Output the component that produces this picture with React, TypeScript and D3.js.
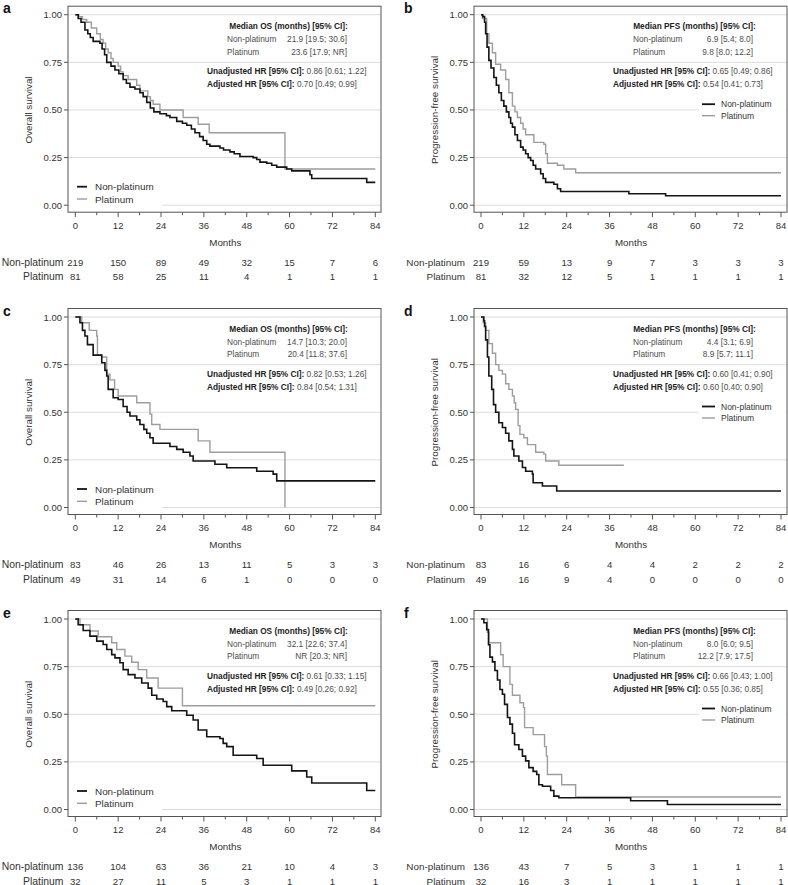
import React from 'react';
import * as d3 from 'd3';

const W = 788;
const H = 885;
const FONT = "'Liberation Sans', Arial, Helvetica, sans-serif";

const monthTicks = [0, 12, 24, 36, 48, 60, 72, 84];
const minorTicks = [6, 18, 30, 42, 54, 66, 78];
const survTicks = [0, 0.25, 0.5, 0.75, 1];
const survTickLabels = ['0.00', '0.25', '0.50', '0.75', '1.00'];
const groups = ['Non-platinum', 'Platinum'];

// ---- Kaplan-Meier steps: [month, survival after the drop] ----
const aNonPlatinum = [[0,1],[0.8,0.98],[1.6,0.96],[2.7,0.92],[3.5,0.9],[4.2,0.88],[5,0.86],[6.9,0.85],[7.5,0.82],[8.2,0.79],[8.8,0.75],[10,0.73],[11.1,0.71],[12.2,0.69],[13.4,0.66],[14.3,0.64],[15.3,0.62],[16.7,0.61],[18.1,0.59],[19,0.57],[20,0.54],[21,0.51],[22,0.49],[23.7,0.48],[25.5,0.47],[26.5,0.46],[28.4,0.44],[30,0.43],[31.2,0.42],[32.5,0.4],[33.5,0.38],[34.8,0.36],[35.8,0.34],[36.8,0.32],[37.7,0.31],[40.5,0.3],[41.5,0.29],[43.3,0.28],[44.5,0.27],[46.1,0.256],[49.8,0.25],[50.8,0.24],[51.7,0.226],[53.6,0.22],[55,0.21],[56.4,0.2],[59.2,0.19],[60.6,0.18],[65.7,0.16],[66.2,0.14],[81.6,0.12]];
const aPlatinum = [[0,1],[1,0.99],[2,0.975],[3.2,0.96],[4.5,0.93],[6,0.9],[7,0.87],[7.8,0.85],[8.5,0.82],[9.2,0.8],[10,0.77],[10.6,0.75],[12,0.73],[12.7,0.7],[13.4,0.68],[14.8,0.66],[17.2,0.63],[18.1,0.6],[20.3,0.57],[21,0.55],[21.8,0.53],[23.7,0.5],[30.2,0.46],[34.4,0.425],[37.5,0.38],[58.7,0.19]];
const bNonPlatinum = [[0,1],[0.5,0.99],[1,0.96],[1.3,0.9],[1.7,0.83],[2.2,0.76],[2.8,0.72],[3.6,0.67],[4.3,0.63],[5,0.59],[5.7,0.55],[6.4,0.52],[7.1,0.49],[7.8,0.46],[8.3,0.43],[8.8,0.41],[9.5,0.37],[10.2,0.34],[11.1,0.305],[11.8,0.29],[12.5,0.27],[13.2,0.25],[13.9,0.235],[14.6,0.21],[15.3,0.19],[16.7,0.165],[17.4,0.14],[18.1,0.12],[20.4,0.11],[21.4,0.086],[22.3,0.072],[41.4,0.06],[51.7,0.05]];
const bPlatinum = [[0,1],[0.4,0.98],[1.6,0.9],[2.2,0.85],[3.2,0.8],[4.1,0.74],[5.5,0.71],[6.9,0.66],[7.8,0.59],[8.8,0.52],[9.5,0.49],[10.2,0.46],[11.1,0.43],[11.8,0.4],[12.5,0.37],[14.8,0.33],[17.6,0.32],[18.1,0.27],[18.6,0.22],[21.4,0.21],[23.2,0.19],[26.5,0.17]];
const cNonPlatinum = [[0,1],[1.3,0.97],[2,0.93],[2.7,0.9],[3.4,0.855],[5,0.8],[7.4,0.76],[8.3,0.72],[8.8,0.69],[9.2,0.62],[10.6,0.576],[12,0.567],[13.4,0.53],[14.5,0.5],[15.3,0.48],[17.2,0.46],[18.1,0.436],[19.2,0.41],[20,0.39],[20.9,0.366],[21.8,0.337],[26.5,0.32],[28.4,0.305],[30.2,0.29],[32.1,0.27],[33,0.244],[39.1,0.227],[42.4,0.209],[50.8,0.19],[55.4,0.175],[56.4,0.14]];
const cPlatinum = [[0,1],[1.8,0.97],[3.9,0.93],[6,0.9],[6.2,0.8],[7.4,0.79],[8.8,0.7],[9.7,0.67],[11,0.62],[12,0.585],[17.2,0.55],[20.9,0.49],[21.4,0.436],[23.7,0.41],[34.4,0.35],[37.7,0.29],[58.7,0]];
const dNonPlatinum = [[0,1],[0.8,0.98],[1,0.95],[1.3,0.88],[1.8,0.79],[2.2,0.69],[3,0.62],[3.5,0.54],[4.1,0.5],[5,0.445],[6,0.42],[6.9,0.39],[7.8,0.35],[8.8,0.305],[9.2,0.27],[10.6,0.244],[11.6,0.21],[12.5,0.19],[14.4,0.175],[14.6,0.13],[17.2,0.113],[21.2,0.087]];
const dPlatinum = [[0,1],[0.6,0.97],[1.3,0.93],[2.2,0.86],[3.2,0.81],[4.1,0.75],[5,0.72],[6,0.7],[6.9,0.65],[7.8,0.62],[8.8,0.585],[9.3,0.55],[9.7,0.515],[10.4,0.43],[10.9,0.384],[12,0.366],[13,0.33],[15.3,0.29],[17.6,0.28],[18.1,0.244],[21.8,0.222]];
const eNonPlatinum = [[0,1],[0.8,0.97],[2.2,0.94],[4.1,0.91],[6,0.884],[7.8,0.866],[8.8,0.84],[10.2,0.813],[11.1,0.796],[12.5,0.77],[13.4,0.734],[14.8,0.708],[16.7,0.69],[18.6,0.664],[20.4,0.637],[21.4,0.6],[22.8,0.58],[24.6,0.567],[25.6,0.54],[27,0.518],[31.2,0.495],[33,0.47],[34.4,0.417],[36.8,0.382],[40.5,0.373],[41.4,0.347],[42.4,0.33],[44.2,0.285],[50.8,0.268],[52.6,0.232],[60.6,0.203],[64.8,0.171],[66.2,0.139],[81.6,0.1]];
const ePlatinum = [[0,1],[1.3,0.97],[4.1,0.937],[6.4,0.907],[10.2,0.875],[11.6,0.84],[13.9,0.805],[15.8,0.773],[17.6,0.734],[20,0.69],[23.2,0.637],[30,0.545]];
const fNonPlatinum = [[0,1],[0.8,0.98],[1.6,0.944],[2.1,0.865],[2.5,0.8],[3.2,0.775],[3.9,0.73],[4.6,0.68],[5.3,0.63],[6,0.605],[6.6,0.552],[7.4,0.483],[8.1,0.448],[8.8,0.4],[9.4,0.34],[10.6,0.315],[11.6,0.28],[12.5,0.255],[13.4,0.22],[14.6,0.2],[15.6,0.184],[16.2,0.13],[17.2,0.122],[19.5,0.1],[20.4,0.07],[21.8,0.062],[41.9,0.046],[52.2,0.026]];
const fPlatinum = [[0,1],[1.8,0.93],[2.2,0.875],[5.5,0.812],[6.2,0.75],[8.1,0.657],[8.8,0.6],[10.9,0.56],[11.9,0.535],[12.2,0.43],[14.6,0.393],[17.8,0.33],[18.3,0.28],[18.6,0.184],[22.6,0.13],[26.5,0.066]];

// last follow-up month of each curve
const endNon = [84, 84, 84, 84, 84, 84];
const endPlat = [84, 84, 58.7, 40, 84, 84];

// ---- numbers at risk ----
const riskANon = [219, 150, 89, 49, 32, 15, 7, 6];
const riskAPlat = [81, 58, 25, 11, 4, 1, 1, 1];
const riskBNon = [219, 59, 13, 9, 7, 3, 3, 3];
const riskBPlat = [81, 32, 12, 5, 1, 1, 1, 1];
const riskCNon = [83, 46, 26, 13, 11, 5, 3, 3];
const riskCPlat = [49, 31, 14, 6, 1, 0, 0, 0];
const riskDNon = [83, 16, 6, 4, 4, 2, 2, 2];
const riskDPlat = [49, 16, 9, 4, 0, 0, 0, 0];
const riskENon = [136, 104, 63, 36, 21, 10, 4, 3];
const riskEPlat = [32, 27, 11, 5, 3, 1, 1, 1];
const riskFNon = [136, 43, 7, 5, 3, 1, 1, 1];
const riskFPlat = [32, 16, 3, 1, 1, 1, 1, 1];

// ---- annotation texts ----
const panelLetters = ['a', 'b', 'c', 'd', 'e', 'f'];
const yTitles = ['Overall survival', 'Progression-free survival'];
const medianTitles = ['Median OS (months) [95% CI]:', 'Median PFS (months) [95% CI]:'];
const medianNon = ['21.9 [19.5; 30.6]', '6.9 [5.4; 8.0]', '14.7 [10.3; 20.0]', '4.4 [3.1; 6.9]', '32.1 [22.6; 37.4]', '8.0 [6.0; 9.5]'];
const medianPlat = ['23.6 [17.9; NR]', '9.8 [8.0; 12.2]', '20.4 [11.8; 37.6]', '8.9 [5.7; 11.1]', 'NR [20.3; NR]', '12.2 [7.9; 17.5]'];
const hrUnadj = ['0.86 [0.61; 1.22]', '0.65 [0.49; 0.86]', '0.82 [0.53; 1.26]', '0.60 [0.41; 0.90]', '0.61 [0.33; 1.15]', '0.66 [0.43; 1.00]'];
const hrAdj = ['0.70 [0.49; 0.99]', '0.54 [0.41; 0.73]', '0.84 [0.54; 1.31]', '0.60 [0.40; 0.90]', '0.49 [0.26; 0.92]', '0.55 [0.36; 0.85]'];

const curvesNon = [aNonPlatinum, bNonPlatinum, cNonPlatinum, dNonPlatinum, eNonPlatinum, fNonPlatinum];
const curvesPlat = [aPlatinum, bPlatinum, cPlatinum, dPlatinum, ePlatinum, fPlatinum];
const risksNon = [riskANon, riskBNon, riskCNon, riskDNon, riskENon, riskFNon];
const risksPlat = [riskAPlat, riskBPlat, riskCPlat, riskDPlat, riskEPlat, riskFPlat];

// ---- layout ----
const colX0 = [75.3, 481];
const colBoxL = [68, 474];
const colBoxR = [381, 787];
const colLetterX = [3, 404];
const colYTitleX = [28, 434];
const colRiskLabelEnd = [63.5, 465];
const colRiskLabelSize = [10.4, 9.9];
const rowTop = [14.7, 317, 619];
const PH = 190.5;
const PW = 300;

const BLACK = '#141414';
const GREY = '#9d9d9d';
const AX = '#555';

function Panel({ i }: { i: number }) {
  const col = i % 2;
  const row = Math.floor(i / 2);
  const T = rowTop[row];
  const x0 = colX0[col];
  const L = colBoxL[col];
  const R = colBoxR[col];
  const x = d3.scaleLinear().domain([0, 84]).range([x0, x0 + PW]);
  const y = d3.scaleLinear().domain([0, 1]).range([T + PH, T]);
  const boxTop = T - 8.5;
  const boxBot = T + PH + 7;
  const line = d3.line<number[]>().x((d) => x(d[0])).y((d) => y(d[1])).curve(d3.curveStepAfter);
  const mk = (pts: number[][], end: number) => {
    const last = pts[pts.length - 1];
    const arr = last[0] < end ? [...pts, [end, last[1]]] : pts;
    return line(arr) || '';
  };
  const ann = 8.3;
  const legendLeft = col === 0;
  return (
    <g>
      <text x={colLetterX[col]} y={T - 1.5} fontSize={14} fontWeight="bold" fill="#111">{panelLetters[i]}</text>
      {/* gridlines */}
      {survTicks.map((v) => (
        <line key={v} x1={L} x2={R} y1={y(v)} y2={y(v)} stroke="#dcdcdc" strokeWidth={1} />
      ))}
      {/* legend backgrounds */}
      {legendLeft ? (
        <rect x={L + 1} y={T + PH - 26} width={93} height={29} fill="#fff" />
      ) : (
        <rect x={R - 88} y={T + 82} width={87} height={26} fill="#fff" />
      )}
      {/* box */}
      <rect x={L} y={boxTop} width={R - L} height={boxBot - boxTop} fill="none" stroke={AX} strokeWidth={1} />
      {/* y axis ticks */}
      {survTicks.map((v, k) => (
        <g key={v}>
          <line x1={L - 4} x2={L} y1={y(v)} y2={y(v)} stroke={AX} />
          <text x={L - 6} y={y(v)} fontSize={9.5} textAnchor="end" dominantBaseline="central" fill="#333">{survTickLabels[k]}</text>
        </g>
      ))}
      <text transform={`translate(${colYTitleX[col]},${T + PH / 2}) rotate(-90)`} fontSize={9.8} textAnchor="middle" dominantBaseline="central" fill="#333">{yTitles[col]}</text>
      {/* x axis ticks */}
      {monthTicks.map((m) => (
        <g key={m}>
          <line x1={x(m)} x2={x(m)} y1={boxBot} y2={boxBot + 5} stroke={AX} />
          <text x={x(m)} y={T + PH + 20} fontSize={9.5} textAnchor="middle" dominantBaseline="central" fill="#333">{m}</text>
        </g>
      ))}
      {minorTicks.map((m) => (
        <line key={m} x1={x(m)} x2={x(m)} y1={boxBot} y2={boxBot + 3} stroke={AX} />
      ))}
      <text x={x(42)} y={T + PH + 37} fontSize={9.8} textAnchor="middle" dominantBaseline="central" fill="#333">Months</text>
      {/* curves */}
      <path d={mk(curvesPlat[i], endPlat[i])} fill="none" stroke={GREY} strokeWidth={1.4} />
      <path d={mk(curvesNon[i], endNon[i])} fill="none" stroke={BLACK} strokeWidth={1.6} />
      {/* legend */}
      {groups.map((g, k) => {
        const ly = legendLeft ? T + PH - 18.5 + k * 12.3 : T + 89.5 + k * 11.5;
        const lx1 = legendLeft ? L + 9 : R - 85;
        const lx2 = legendLeft ? L + 19 : R - 72;
        const tx = legendLeft ? L + 27 : R - 66;
        return (
          <g key={g}>
            <line x1={lx1} x2={lx2} y1={ly} y2={ly} stroke={k === 0 ? BLACK : GREY} strokeWidth={k === 0 ? 1.8 : 1.4} />
            <text x={tx} y={ly} fontSize={legendLeft ? 9.9 : 8.5} dominantBaseline="central" fill="#333">{g}</text>
          </g>
        );
      })}
      {/* annotation */}
      <text x={R - 92.5} y={T + 11.5} fontSize={ann} fontWeight="bold" textAnchor="middle" dominantBaseline="central" fill="#222">{medianTitles[col]}</text>
      {groups.map((g, k) => (
        <g key={g}>
          <text x={R - 154} y={T + 24.5 + k * 12.5} fontSize={ann} dominantBaseline="central" fill="#4d4d4d">{g}</text>
          <text x={R - 34} y={T + 24.5 + k * 12.5} fontSize={ann} textAnchor="end" dominantBaseline="central" fill="#4d4d4d">{k === 0 ? medianNon[i] : medianPlat[i]}</text>
        </g>
      ))}
      <text x={R - 174} y={T + 56.5} fontSize={ann} dominantBaseline="central" fill="#4d4d4d">
        <tspan fontWeight="bold" fill="#222">Unadjusted HR [95% CI]: </tspan>
        <tspan>{hrUnadj[i]}</tspan>
      </text>
      <text x={R - 174} y={T + 69.5} fontSize={ann} dominantBaseline="central" fill="#4d4d4d">
        <tspan fontWeight="bold" fill="#222">Adjusted HR [95% CI]: </tspan>
        <tspan>{hrAdj[i]}</tspan>
      </text>
      {/* risk table */}
      {groups.map((g, k) => {
        const ry = T + PH + 57 + k * 14.5;
        const vals = k === 0 ? risksNon[i] : risksPlat[i];
        return (
          <g key={g}>
            <text x={colRiskLabelEnd[col]} y={ry} fontSize={colRiskLabelSize[col]} textAnchor="end" dominantBaseline="central" fill="#333">{g}</text>
            {vals.map((v, j) => (
              <text key={j} x={x(monthTicks[j])} y={ry} fontSize={9.6} textAnchor="middle" dominantBaseline="central" fill="#333">{v}</text>
            ))}
          </g>
        );
      })}
    </g>
  );
}

export default function App() {
  return (
    <svg width={W} height={H} viewBox={`0 0 ${W} ${H}`} style={{ position: 'absolute', left: 0, top: 0, background: '#fff', fontFamily: FONT }}>
      <rect x={0} y={0} width={W} height={H} fill="#fff" />
      {panelLetters.map((_, i) => (
        <Panel key={i} i={i} />
      ))}
    </svg>
  );
}
